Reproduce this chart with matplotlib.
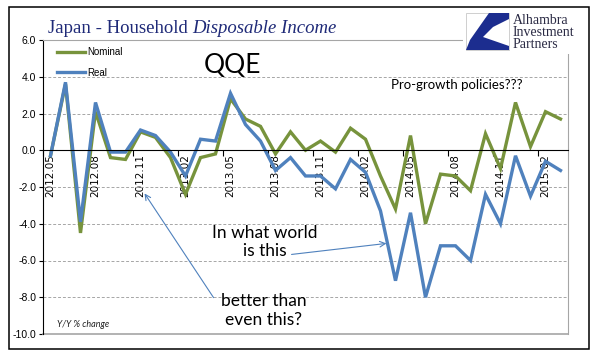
import matplotlib
matplotlib.use("Agg")
import matplotlib.pyplot as plt
from matplotlib.patches import Rectangle, Polygon

# Japan household disposable income, Y/Y % change, monthly 2012.05 - 2015.03
months = ["2012.05", "2012.06", "2012.07", "2012.08", "2012.09", "2012.10",
          "2012.11", "2012.12", "2013.01", "2013.02", "2013.03", "2013.04",
          "2013.05", "2013.06", "2013.07", "2013.08", "2013.09", "2013.10",
          "2013.11", "2013.12", "2014.01", "2014.02", "2014.03", "2014.04",
          "2014.05", "2014.06", "2014.07", "2014.08", "2014.09", "2014.10",
          "2014.11", "2014.12", "2015.01", "2015.02", "2015.03"]
nominal = [-0.3, 3.6, -4.5, 2.1, -0.4, -0.5, 1.0, 0.7, -0.4, -2.4, -0.4, -0.2,
           2.8, 1.7, 1.3, -0.2, 1.0, 0.0, 0.5, -0.1, 1.2, 0.6, -1.4, -3.2,
           0.8, -4.0, -1.3, -1.4, -2.2, 0.9, -1.0, 2.6, 0.2, 2.1, 1.7]
real = [-0.3, 3.7, -3.9, 2.6, -0.1, -0.1, 1.1, 0.8, -0.1, -1.4, 0.6, 0.5,
        3.1, 1.4, 0.5, -1.1, -0.4, -1.4, -1.4, -2.1, -0.5, -1.2, -3.3, -7.1,
        -3.4, -8.0, -5.2, -5.2, -6.0, -2.4, -4.0, -0.3, -2.5, -0.6, -1.1]

GREEN = "#77933C"
BLUE = "#4F81BD"
NAVY = "#1f2a78"
W, H = 596, 361


def fx(px):
    return px / W


def fy(py):
    return 1 - py / H


fig = plt.figure(figsize=(W / 100, H / 100), dpi=100)
ax = fig.add_axes([fx(43), fy(334), (568 - 43) / W, (334 - 40) / H])

x = list(range(len(months)))
ax.plot(x, nominal, color=GREEN, lw=2.4, label="Nominal", solid_joinstyle="miter")
ax.plot(x, real, color=BLUE, lw=2.4, label="Real", solid_joinstyle="miter")

ax.set_xlim(-0.5, len(months) - 0.5)
ax.set_ylim(-10, 6)
ax.set_yticks(range(-10, 7, 2))
ax.set_yticklabels([f"{v:.1f}" for v in range(-10, 7, 2)])
ax.tick_params(axis="y", length=3, width=0.8, pad=2, labelsize=7.5)

ax.set_xticks(x[::3])
ax.set_xticklabels(months[::3])
ax.set_xticks([i - 0.5 for i in x[::3]], minor=True)
ax.tick_params(axis="x", which="major", length=0, pad=3, labelrotation=90,
               labelsize=7.5)
ax.tick_params(axis="x", which="minor", length=4, width=0.8, direction="out")
for lab in ax.get_xticklabels():
    lab.set_family("Liberation Serif")
for lab in ax.get_yticklabels():
    lab.set_family("Liberation Sans")

ax.grid(axis="y", color="#a6a6a6", lw=0.7, linestyle=(0, (3, 2)))
ax.set_axisbelow(True)
ax.spines["bottom"].set_position(("data", 0))
ax.spines["bottom"].set_color("black")
ax.spines["left"].set_color("black")
for s in ("top", "right"):
    ax.spines[s].set_color("#a6a6a6")
ax.axhline(-10, color="#a6a6a6", lw=1.2, clip_on=False)

leg = ax.legend(loc="upper left", bbox_to_anchor=(0.027, 0.975), frameon=False,
                handlelength=2.9, handletextpad=0.15,
                labelspacing=1.05, borderpad=0, borderaxespad=0,
                prop={"family": "Liberation Sans", "size": 7})

sans = "Lato"
ax.text(12.1, 4.6, "QQE", fontsize=19, family=sans, ha="center", va="center")
ax.text(22.7, 3.55, "Pro-growth policies???", fontsize=9.5, family=sans,
        ha="left", va="center")
ax.text(14.27, -5.0, "In what world\nis this", fontsize=12.5, family=sans,
        ha="center", va="center", linespacing=1.2)
ax.text(14.2, -8.73, "better than\neven this?", fontsize=12.5, family=sans,
        ha="center", va="center", linespacing=1.2)
ax.text(0.4, -9.5, "Y/Y % change", fontsize=6.5, family=sans, style="italic",
        ha="left", va="center", color="#222222")

arrow = dict(arrowstyle="->", color=BLUE, lw=0.8, shrinkA=0, shrinkB=0)
ax.annotate("", xy=(6.27, -2.35), xytext=(10.87, -8.02), arrowprops=arrow)
ax.annotate("", xy=(22.4, -5.07), xytext=(16.07, -5.67), arrowprops=arrow)

# title: regular part then italic part
t1 = fig.text(fx(48), fy(33), "Japan - Household ", fontsize=13.5,
              family="Liberation Serif", color=NAVY, va="baseline")
fig.canvas.draw()
bb = t1.get_window_extent()
fig.text(bb.x1 / W, fy(33), "Disposable Income", fontsize=13.5,
         family="Liberation Serif", style="italic", color=NAVY, va="baseline")

# logo area
fig.patches.append(Rectangle((fx(463), fy(54)), (589 - 463) / W, (54 - 8) / H,
                             transform=fig.transFigure, facecolor="white",
                             edgecolor="none", zorder=5))
fig.patches.append(Rectangle((fx(466), fy(50)), 43 / W, 37 / H,
                             transform=fig.transFigure, facecolor="white",
                             edgecolor="#c8c8c8", lw=0.6, zorder=6))
shape = [(489, 13), (509, 13), (509, 19), (493, 27), (483, 37), (509, 46),
         (509, 50), (466, 50), (470, 40)]
fig.patches.append(Polygon([(fx(a), fy(b)) for a, b in shape],
                           transform=fig.transFigure, facecolor="#1c2d8f",
                           edgecolor="none", zorder=7))
for txt, py in (("Alhambra", 20), ("Investment", 32), ("Partners", 44)):
    fig.text(fx(513), fy(py), txt, fontsize=10, family="Liberation Serif",
             color="#2a2a44", va="center", zorder=8)

# outer frame
fig.patches.append(Rectangle((fx(9), fy(349)), (589 - 9) / W, (349 - 7) / H,
                             transform=fig.transFigure, facecolor="none",
                             edgecolor="black", lw=1.1, zorder=9))

fig.savefig("out.png", dpi=100)
